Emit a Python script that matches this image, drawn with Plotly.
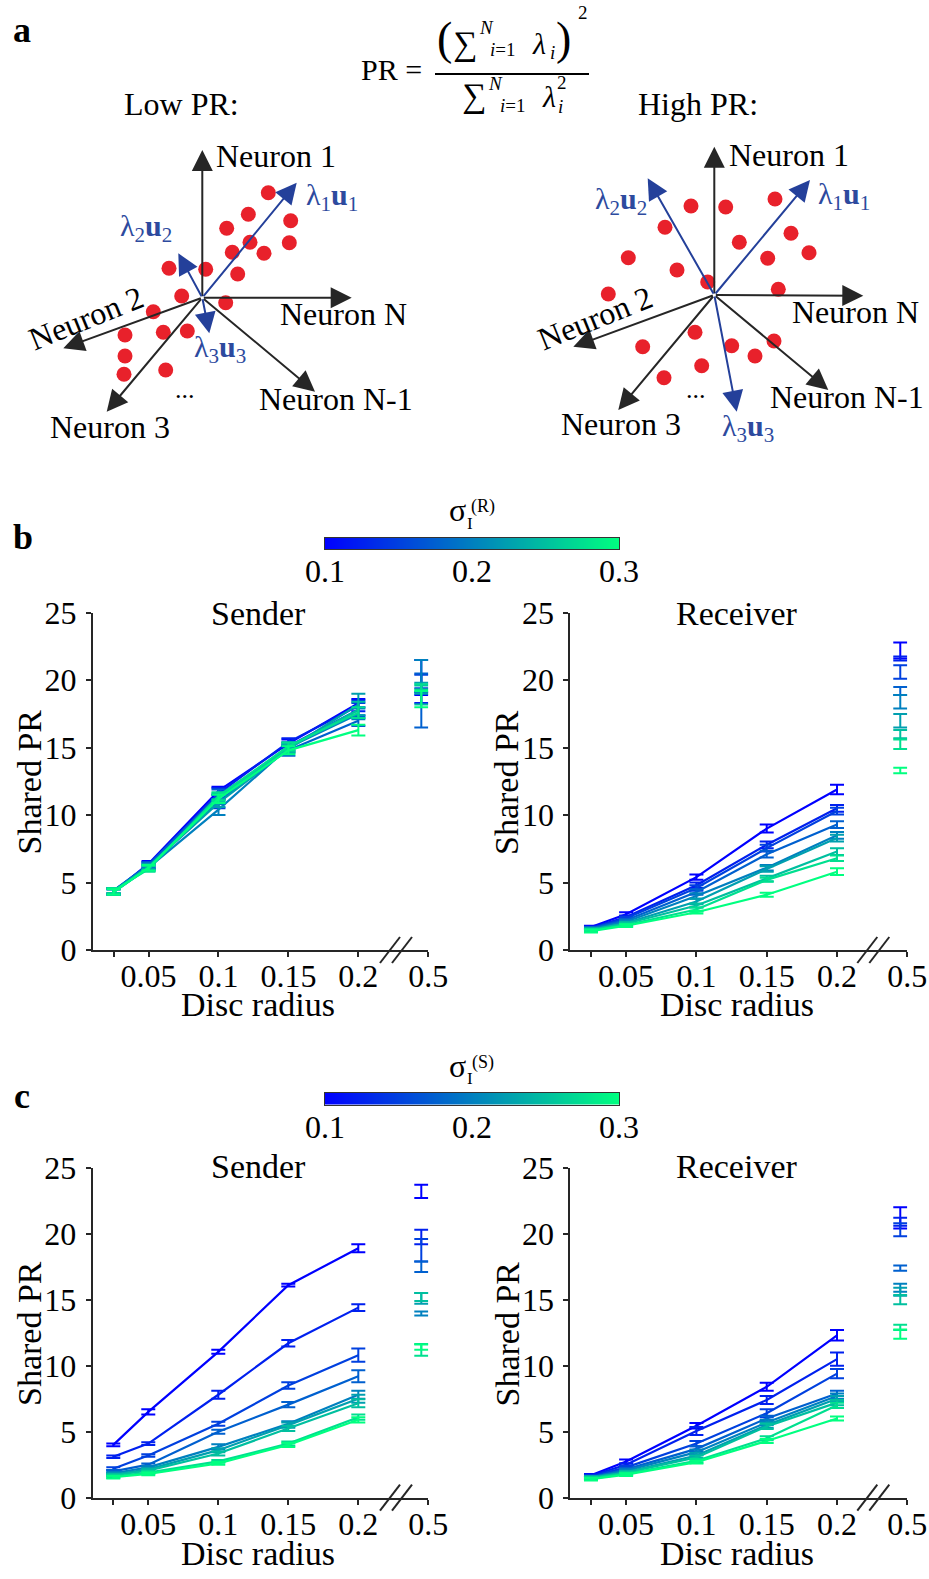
import numpy as np
import plotly.graph_objects as go

W, H = 929, 1579
FONT = "Liberation Serif"
AX = "#262626"
BLUE_TXT = "#2d4a9e"
BLUE_ARR = "#24409a"
RED = "#e8212b"

# ---------------- data ----------------
SIGMA = [0.1, 0.125, 0.15, 0.175, 0.2, 0.225, 0.25, 0.275, 0.3]
RADIUS = [0.025, 0.05, 0.1, 0.15, 0.2]
BREAK_RADIUS_POS = 0.245          # axis position used for disc radius 0.5
X_TICKVALS = [0.025, 0.05, 0.1, 0.15, 0.2, 0.25]
X_TICKTEXT = ["", "0.05", "0.1", "0.15", "0.2", "0.5"]
Y_TICKVALS = [0, 5, 10, 15, 20, 25]
CBAR_TICKS = [0.1, 0.2, 0.3]

b_sender_mean = [
    [4.3, 6.4, 11.8, 15.3, 18.3],
    [4.4, 6.3, 11.6, 15.4, 18.1],
    [4.3, 6.2, 11.0, 15.1, 17.8],
    [4.4, 6.3, 11.5, 14.8, 17.0],
    [4.3, 6.1, 10.4, 15.0, 17.5],
    [4.4, 6.2, 10.9, 14.9, 18.2],
    [4.3, 6.1, 11.3, 15.0, 17.8],
    [4.4, 6.0, 11.4, 15.1, 17.6],
    [4.3, 6.1, 11.2, 14.8, 16.3],
]
b_sender_err = [
    [0.2, 0.2, 0.3, 0.3, 0.3],
    [0.2, 0.2, 0.4, 0.3, 0.4],
    [0.2, 0.2, 0.5, 0.3, 0.5],
    [0.2, 0.2, 0.4, 0.4, 0.4],
    [0.2, 0.2, 0.4, 0.3, 0.4],
    [0.2, 0.2, 0.3, 0.3, 0.8],
    [0.2, 0.2, 0.3, 0.3, 0.6],
    [0.2, 0.2, 0.3, 0.3, 0.4],
    [0.2, 0.2, 0.3, 0.3, 0.4],
]
b_sender_05_mean = [20.2, 18.7, 19.9, 18.5, 20.3, 19.4, 18.9, 19.5, 18.6]
b_sender_05_err = [1.3, 0.4, 0.5, 2.0, 1.2, 0.4, 0.7, 0.2, 0.6]

b_receiver_mean = [
    [1.7, 2.65, 5.4, 9.0, 11.9],
    [1.65, 2.45, 4.8, 7.8, 10.5],
    [1.6, 2.35, 4.6, 7.55, 10.3],
    [1.6, 2.2, 4.3, 7.1, 9.3],
    [1.55, 2.1, 4.0, 6.1, 8.5],
    [1.5, 2.0, 3.6, 6.0, 8.3],
    [1.5, 1.95, 3.3, 5.3, 7.3],
    [1.45, 1.85, 3.0, 5.2, 6.8],
    [1.4, 1.8, 2.8, 4.1, 5.8],
]
b_receiver_err = [
    [0.1, 0.15, 0.2, 0.3, 0.35],
    [0.1, 0.1, 0.2, 0.25, 0.25],
    [0.1, 0.1, 0.2, 0.25, 0.25],
    [0.1, 0.1, 0.2, 0.25, 0.25],
    [0.1, 0.1, 0.2, 0.2, 0.25],
    [0.1, 0.1, 0.2, 0.2, 0.25],
    [0.1, 0.1, 0.15, 0.2, 0.25],
    [0.1, 0.1, 0.15, 0.15, 0.2],
    [0.1, 0.1, 0.1, 0.15, 0.25],
]
b_receiver_05_mean = [22.2, 21.6, 20.6, 19.2, 18.4, 17.0, 16.0, 15.25, 13.3]
b_receiver_05_err = [0.6, 0.15, 0.5, 0.3, 0.5, 0.5, 0.3, 0.35, 0.2]

c_sender_mean = [
    [4.0, 6.5, 11.05, 16.1, 18.9],
    [3.1, 4.1, 7.8, 11.7, 14.4],
    [2.2, 3.2, 5.6, 8.5, 10.8],
    [2.0, 2.5, 5.0, 7.05, 9.2],
    [1.85, 2.3, 3.85, 5.6, 7.8],
    [1.75, 2.15, 3.6, 5.5, 7.5],
    [1.7, 2.05, 3.35, 5.25, 7.15],
    [1.6, 1.9, 2.75, 4.1, 6.1],
    [1.55, 1.8, 2.6, 4.0, 5.9],
]
c_sender_err = [
    [0.1, 0.2, 0.15, 0.1, 0.3],
    [0.1, 0.1, 0.3, 0.25, 0.25],
    [0.1, 0.1, 0.15, 0.25, 0.5],
    [0.1, 0.1, 0.15, 0.2, 0.45],
    [0.1, 0.1, 0.2, 0.2, 0.3],
    [0.1, 0.1, 0.15, 0.2, 0.3],
    [0.1, 0.1, 0.15, 0.2, 0.3],
    [0.1, 0.1, 0.1, 0.15, 0.2],
    [0.1, 0.1, 0.1, 0.15, 0.2],
]
c_sender_05_mean = [23.2, 19.75, 18.75, 17.5, 13.95, 15.1, 15.2, 11.2, 11.4]
c_sender_05_err = [0.5, 0.55, 0.85, 0.4, 0.15, 0.4, 0.3, 0.45, 0.2]

c_receiver_mean = [
    [1.7, 2.75, 5.45, 8.4, 12.3],
    [1.65, 2.5, 5.05, 7.4, 10.5],
    [1.6, 2.3, 4.1, 6.4, 9.4],
    [1.55, 2.15, 3.7, 6.0, 7.9],
    [1.55, 2.05, 3.45, 5.7, 7.7],
    [1.5, 1.95, 3.2, 5.5, 7.5],
    [1.5, 1.9, 3.05, 5.4, 7.2],
    [1.45, 1.8, 2.8, 4.5, 7.0],
    [1.4, 1.75, 2.7, 4.3, 6.0],
]
c_receiver_err = [
    [0.1, 0.15, 0.2, 0.3, 0.4],
    [0.1, 0.1, 0.3, 0.3, 0.5],
    [0.1, 0.1, 0.2, 0.3, 0.35],
    [0.1, 0.1, 0.2, 0.2, 0.2],
    [0.1, 0.1, 0.2, 0.2, 0.2],
    [0.1, 0.1, 0.2, 0.2, 0.2],
    [0.1, 0.1, 0.15, 0.2, 0.2],
    [0.1, 0.1, 0.15, 0.15, 0.2],
    [0.1, 0.1, 0.1, 0.15, 0.15],
]
c_receiver_05_mean = [21.2, 20.9, 20.3, 17.4, 15.9, 15.6, 15.0, 12.9, 12.4]
c_receiver_05_err = [0.8, 0.3, 0.5, 0.2, 0.3, 0.3, 0.35, 0.2, 0.35]

# panel a diagram data (pixel-space coordinates of the schematic)
low_origin = (202.3, 297.7)
low_dots_x = [268.3, 248.3, 226.7, 290.7, 250, 232.3, 264, 289.3, 169, 205.7, 237.7, 181.7, 225.7, 153.3, 163.3, 187.3, 125, 125, 124, 165.7]
low_dots_y = [192.7, 214.3, 228.3, 220.7, 242.3, 252.3, 253.3, 242.7, 268.3, 269.3, 274, 296, 302.7, 311.7, 332.3, 331, 335, 356, 374.3, 370]
high_origin = (714.3, 295)
high_dots_x = [691, 725.7, 775, 665, 739.3, 791, 809, 628.3, 677, 767.7, 707.7, 608.3, 778.3, 695, 642.7, 731.7, 755, 774, 701.7, 664]
high_dots_y = [206, 207, 199, 227.3, 242.3, 233.3, 252.7, 257.7, 270, 258.3, 282, 294, 289.3, 332.3, 346.7, 345.7, 356, 341, 365.7, 377.7]

low_axes_tips = [(202.3, 150), (351.7, 297.7), (63.3, 348.3), (106.7, 411.7), (315, 391.7)]
high_axes_tips = [(714.3, 146.7), (863.3, 295.7), (573.3, 346.7), (618.3, 410), (828.3, 390)]
low_pc_tips = [(296.7, 182.7), (178.3, 253.3), (209.3, 333.3)]
high_pc_tips = [(810, 180), (647.7, 178.3), (736.7, 411.7)]


def winter(s):
    t = (s - 0.1) / 0.2
    return f"rgb(0,{round(255 * t)},{round(255 * (1 - t / 2))})"


def xdom(a, b):
    return [a / W, b / W]


def ydom(top, bottom):
    return [1 - bottom / H, 1 - top / H]


fig = go.Figure()
layout = dict(
    width=W, height=H, autosize=False,
    margin=dict(l=0, r=0, t=0, b=0, pad=0, autoexpand=False),
    paper_bgcolor="white", plot_bgcolor="white", showlegend=False,
    font=dict(family=FONT, color="black"),
)

X_LEFT = 0.0103
panels = [
    ("x", "y", (93, 428.3), (612.7, 950), b_sender_mean, b_sender_err, b_sender_05_mean, b_sender_05_err),
    ("x2", "y2", (570.3, 907.3), (612.7, 950), b_receiver_mean, b_receiver_err, b_receiver_05_mean, b_receiver_05_err),
    ("x3", "y3", (92.7, 428.3), (1167.7, 1497.7), c_sender_mean, c_sender_err, c_sender_05_mean, c_sender_05_err),
    ("x4", "y4", (570.3, 907.3), (1167.7, 1497.7), c_receiver_mean, c_receiver_err, c_receiver_05_mean, c_receiver_05_err),
]

tickfont = dict(family=FONT, size=32, color="black")
for xa, ya, xd, yd, mean, err, m05, e05 in panels:
    xk = "xaxis" + xa[1:]
    yk = "yaxis" + ya[1:]
    layout[xk] = dict(domain=xdom(*xd), anchor=ya, range=[X_LEFT, 0.25],
                      tickmode="array", tickvals=X_TICKVALS, ticktext=X_TICKTEXT,
                      ticks="outside", ticklen=5, tickwidth=2, tickcolor=AX,
                      showline=True, linecolor=AX, linewidth=2, showgrid=False,
                      zeroline=False, tickfont=tickfont, fixedrange=True,
                      ticklabelstandoff=-8, automargin=False)
    layout[yk] = dict(domain=ydom(*yd), anchor=xa, range=[0, 25],
                      tickmode="array", tickvals=Y_TICKVALS,
                      ticks="outside", ticklen=5, tickwidth=2, tickcolor=AX,
                      showline=True, linecolor=AX, linewidth=2, showgrid=False,
                      zeroline=False, tickfont=tickfont, fixedrange=True,
                      ticklabelstandoff=3, automargin=False)
    for i, s in enumerate(SIGMA):
        col = winter(s)
        fig.add_trace(go.Scatter(
            x=RADIUS, y=mean[i], xaxis=xa, yaxis=ya, mode="lines",
            line=dict(color=col, width=2.2),
            error_y=dict(type="data", array=err[i], color=col, thickness=2, width=7),
            hoverinfo="skip"))
        fig.add_trace(go.Scatter(
            x=[BREAK_RADIUS_POS], y=[m05[i]], xaxis=xa, yaxis=ya, mode="markers",
            marker=dict(color=col, size=1),
            error_y=dict(type="data", array=[e05[i]], color=col, thickness=2, width=7),
            hoverinfo="skip"))

# ---- colorbars as heatmaps ----
grad = np.linspace(0.1, 0.3, 256)
winter_scale = [[0, "rgb(0,0,255)"], [1, "rgb(0,255,128)"]]
for xa, ya, top in [("x5", "y5", 537.5), ("x6", "y6", 1093)]:
    fig.add_trace(go.Heatmap(z=[grad], x=grad, y=[0], xaxis=xa, yaxis=ya,
                             colorscale=winter_scale, zmin=0.1, zmax=0.3,
                             showscale=False, hoverinfo="skip"))
    layout["xaxis" + xa[1:]] = dict(domain=xdom(325, 619), anchor=ya, range=[0.1, 0.3],
                                    tickmode="array", tickvals=CBAR_TICKS,
                                    ticktext=["0.1", "0.2", "0.3"], ticks="",
                                    showline=True, mirror=True, linecolor="#333333", linewidth=1,
                                    showgrid=False, zeroline=False, tickfont=tickfont,
                                    fixedrange=True, ticklabelstandoff=-6, automargin=False)
    layout["yaxis" + ya[1:]] = dict(domain=ydom(top, top + 11.5), anchor=xa, range=[-0.5, 0.5],
                                    showticklabels=False, ticks="", showline=True, mirror=True,
                                    linecolor="#333333", linewidth=1, showgrid=False,
                                    zeroline=False, fixedrange=True, automargin=False)

# ---- panel a schematic axis ----
layout["xaxis7"] = dict(domain=[0, 1], anchor="y7", range=[0, W], visible=False,
                        fixedrange=True, automargin=False)
layout["yaxis7"] = dict(domain=ydom(0, 460), anchor="x7", range=[460, 0], visible=False,
                        fixedrange=True, automargin=False)
fig.add_trace(go.Scatter(x=low_dots_x + high_dots_x, y=low_dots_y + high_dots_y,
                         xaxis="x7", yaxis="y7", mode="markers",
                         marker=dict(color=RED, size=15, line=dict(width=0)), hoverinfo="skip"))

annotations = []
shapes = []


def arrow(tip, origin, color, width=2, size=2.1):
    annotations.append(dict(x=tip[0], y=tip[1], ax=origin[0], ay=origin[1],
                            xref="x7", yref="y7", axref="x7", ayref="y7",
                            text="", showarrow=True, arrowhead=2, arrowsize=size,
                            arrowwidth=width, arrowcolor=color, standoff=0, startstandoff=0))


def txt(text, x, y, size=32, color="black", angle=0, xanchor="center", yanchor="middle", bold=False, family=FONT):
    if bold:
        text = "<b>" + text + "</b>"
    annotations.append(dict(text=text, x=x / W, y=1 - y / H, xref="paper", yref="paper",
                            showarrow=False, xanchor=xanchor, yanchor=yanchor, textangle=angle,
                            font=dict(family=family, size=size, color=color)))


for tip in low_axes_tips:
    arrow(tip, low_origin, AX)
for tip in high_axes_tips:
    arrow(tip, high_origin, AX)
for tip in low_pc_tips:
    arrow(tip, low_origin, BLUE_ARR)
for tip in high_pc_tips:
    arrow(tip, high_origin, BLUE_ARR)

pc = ["λ<sub>1</sub><b>u</b><sub>1</sub>", "λ<sub>2</sub><b>u</b><sub>2</sub>", "λ<sub>3</sub><b>u</b><sub>3</sub>"]

# low PR labels
txt("Low PR:", 181.7, 104)
txt("Neuron 1", 276, 156)
txt("Neuron N", 343, 314)
txt("Neuron 2", 86, 318, angle=-22)
txt("Neuron 3", 110, 427)
txt("Neuron N-1", 335.7, 399)
txt("...", 185, 390, size=26)
txt(pc[0], 332, 197, size=30, color=BLUE_TXT)
txt(pc[1], 146, 228, size=30, color=BLUE_TXT)
txt(pc[2], 219.5, 349, size=30, color=BLUE_TXT)
# high PR labels
txt("High PR:", 697.5, 104)
txt("Neuron 1", 789, 155)
txt("Neuron N", 855, 312)
txt("Neuron 2", 595, 318, angle=-22)
txt("Neuron 3", 620.5, 424)
txt("Neuron N-1", 846.7, 397)
txt("...", 695.7, 389, size=26)
txt(pc[0], 844, 196, size=30, color=BLUE_TXT)
txt(pc[1], 620.5, 201, size=30, color=BLUE_TXT)
txt(pc[2], 747.5, 428, size=30, color=BLUE_TXT)

# formula
txt("PR =", 391.5, 70, size=30)
txt("(", 444.5, 38, size=46)
txt("∑", 465, 44, size=34)
txt("<i>N</i>", 486, 27, size=19)
txt("<i>i</i>=1", 503, 49, size=19)
txt("<i>λ</i>", 538.5, 43, size=30)
txt("<i>i</i>", 552, 53, size=19)
txt(")", 563.5, 38, size=46)
txt("2", 582.5, 12, size=19)
shapes.append(dict(type="line", xref="paper", yref="paper", x0=435 / W, x1=589 / W,
                   y0=1 - 74 / H, y1=1 - 74 / H, line=dict(color="black", width=2)))
txt("∑", 474.5, 96.5, size=34)
txt("<i>N</i>", 496, 83, size=19)
txt("<i>i</i>=1", 513, 105, size=19)
txt("<i>λ</i>", 548.5, 96, size=30)
txt("2", 562, 82.5, size=19)
txt("<i>i</i>", 560, 106.5, size=19)

# panel letters
txt("a", 21.7, 30, size=36, bold=True)
txt("b", 23, 537, size=36, bold=True)
txt("c", 21.7, 1096, size=36, bold=True)

# colorbar titles
for dy, lab in [(0, "(R)"), (555.5, "(S)")]:
    txt("σ", 457, 510 + dy, size=32)
    txt("I", 469.5, 523 + dy, size=17)
    txt(lab, 483, 507 + dy, size=18)

# subplot titles and axis titles
for dy in [0, 553.5]:
    txt("Sender", 258.3, 613 + dy, size=34)
    txt("Receiver", 736.7, 613 + dy, size=34)
for y in [1005, 1553]:
    txt("Disc radius", 258.3, y, size=34)
    txt("Disc radius", 736.7, y, size=34)
for dy in [0, 551.5]:
    txt("Shared PR", 29, 782.5 + dy, size=34, angle=-90)
    txt("Shared PR", 506.5, 782.5 + dy, size=34, angle=-90)

# axis break marks
for x0, y0 in [(380, 950), (857.3, 950), (380, 1497.7), (857.3, 1497.7)]:
    for off in (0, 12):
        shapes.append(dict(type="line", xref="paper", yref="paper",
                           x0=(x0 + off) / W, y0=1 - (y0 + 13) / H,
                           x1=(x0 + off + 20) / W, y1=1 - (y0 - 13) / H,
                           line=dict(color=AX, width=2)))

layout["annotations"] = annotations
layout["shapes"] = shapes
fig.update_layout(**layout)
fig.write_html("out.html")
